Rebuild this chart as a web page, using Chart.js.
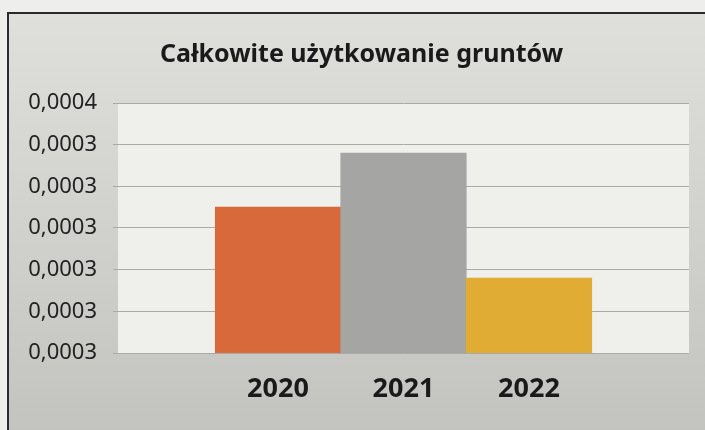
<!DOCTYPE html>
<html lang="pl">
<head>
<meta charset="utf-8">
<title>Całkowite użytkowanie gruntów</title>
<script src="https://cdn.jsdelivr.net/npm/chart.js@4"></script>
<style>
  html, body { margin: 0; padding: 0; background: #eeeeec; }
  canvas { display: block; }
</style>
</head>
<body>
<canvas id="gruntyChart" width="705" height="430"></canvas>
<script>
// dane wykresu
var lata = ['2020', '2021', '2022'];
var pozycjeLat = [0, 1, 2];
var uzytkowanie = [0.000325, 0.000338, 0.000308];
var koloryLat = ['#d7693b', '#a5a5a3', '#e1ac33'];
var wartosciOsiY = [0.00029, 0.00030, 0.00031, 0.00032, 0.00033, 0.00034, 0.00035];
var etykietyOsiY = ['0,0003', '0,0003', '0,0003', '0,0003', '0,0003', '0,0003', '0,0004'];

// tło ramki i obszaru kreślenia
var tloWykresu = {
    id: 'tloWykresu',
    afterLayout: function (chart) {
        // tytuł wyśrodkowany nad całą ramką, a nie tylko nad obszarem z marginesem
        if (chart.titleBlock) {
            chart.titleBlock.left += 17;
            chart.titleBlock.right += 17;
        }
    },
    beforeDraw: function (chart) {
        var ctx = chart.ctx;
        var area = chart.chartArea;
        ctx.save();
        ctx.fillStyle = '#eeeeec';
        ctx.fillRect(0, 0, chart.width, chart.height);

        var grad = ctx.createLinearGradient(0, 14, 0, chart.height);
        grad.addColorStop(0, '#dfdfdc');
        grad.addColorStop(1, '#c3c4c0');
        ctx.fillStyle = grad;
        ctx.fillRect(9, 14, chart.width - 9, chart.height - 14);

        ctx.strokeStyle = '#2b2b2b';
        ctx.lineWidth = 2;
        ctx.beginPath();
        ctx.moveTo(8, chart.height);
        ctx.lineTo(8, 13);
        ctx.lineTo(chart.width, 13);
        ctx.stroke();

        ctx.fillStyle = '#efefec';
        ctx.fillRect(area.left, area.top, area.right - area.left, area.bottom - area.top);
        ctx.restore();
    }
};

var ctxGrunty = document.getElementById('gruntyChart').getContext('2d');
new Chart(ctxGrunty, {
    type: 'bar',
    data: {
        datasets: [{
            label: 'Całkowite użytkowanie gruntów',
            data: pozycjeLat.map(function (x, i) { return { x: x, y: uzytkowanie[i] }; }),
            backgroundColor: koloryLat,
            borderWidth: 0,
            barPercentage: 1,
            categoryPercentage: 1
        }]
    },
    options: {
        responsive: false,
        animation: false,
        devicePixelRatio: 1,
        layout: { padding: { left: 0, right: 16, top: 0, bottom: 0 } },
        plugins: {
            legend: { display: false },
            tooltip: { enabled: false },
            title: {
                display: true,
                text: 'Całkowite użytkowanie gruntów',
                color: '#1a1a1a',
                font: { family: 'Noto Sans', size: 25, weight: 'bold', lineHeight: 1.2 },
                padding: { top: 40, bottom: 33 }
            }
        },
        scales: {
            x: {
                type: 'linear',
                offset: false,
                min: -1.275,
                max: 3.275,
                grid: { display: false },
                border: { display: false },
                afterBuildTicks: function (scale) {
                    scale.ticks = pozycjeLat.map(function (v) { return { value: v }; });
                },
                afterFit: function (scale) { scale.height = 77; },
                ticks: {
                    color: '#1a1a1a',
                    font: { family: 'Noto Sans', size: 27, weight: 'bold' },
                    padding: 12,
                    maxRotation: 0,
                    callback: function (value, index) { return lata[index]; }
                }
            },
            y: {
                min: wartosciOsiY[0],
                max: wartosciOsiY[wartosciOsiY.length - 1],
                afterBuildTicks: function (scale) {
                    scale.ticks = wartosciOsiY.map(function (v) { return { value: v }; });
                },
                afterFit: function (scale) { scale.width = 118; },
                grid: { color: '#a9a9a7', lineWidth: 1, tickLength: 5 },
                border: { display: false },
                ticks: {
                    color: '#222222',
                    font: { family: 'Noto Sans', size: 22 },
                    padding: 16,
                    callback: function (value, index) { return etykietyOsiY[index]; }
                }
            }
        }
    },
    plugins: [tloWykresu]
});
</script>
</body>
</html>
